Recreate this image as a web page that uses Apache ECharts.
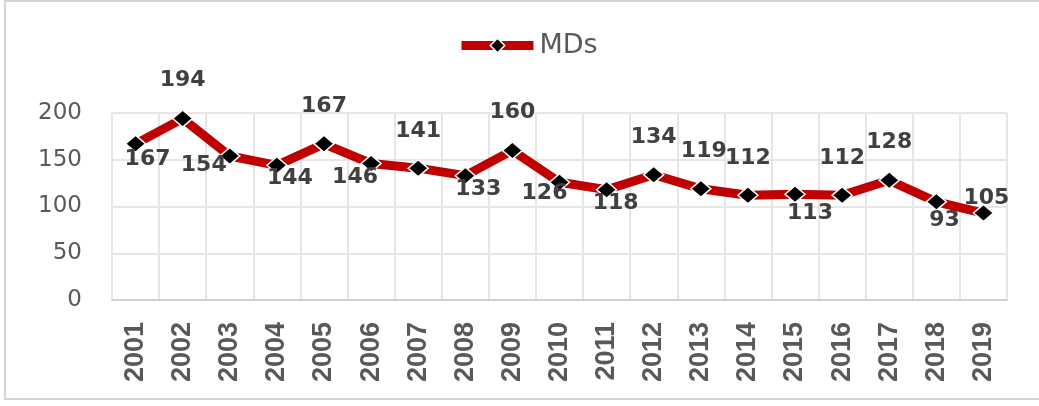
<!DOCTYPE html>
<html>
<head>
<meta charset="utf-8">
<script src="https://cdn.jsdelivr.net/npm/echarts@6/dist/echarts.min.js"></script>
<style>
html,body{margin:0;padding:0;background:#fff;overflow:hidden;}
#frame{position:absolute;left:4px;top:0px;width:1040px;height:400px;border:2px solid #d4d4d4;box-sizing:border-box;}
#chart{position:absolute;left:0;top:0;width:1039px;height:406px;}
</style>
</head>
<body>
<div id="frame"></div>
<div id="chart"></div>
<script>
const categories = ['2001','2002','2003','2004','2005','2006','2007','2008','2009','2010','2011','2012','2013','2014','2015','2016','2017','2018','2019'];
const mdValues = [167,194,154,144,167,146,141,133,160,126,118,134,119,112,113,112,128,105,93];
const yTicks = [0,50,100,150,200];
const seriesName = 'MDs';
// label offsets (styling) relative to each marker, as dragged in the original
const labelOffsets = [[12,15],[0,-38],[-26,9],[13,13],[0,-38],[-16,14],[0,-37],[13,14],[0,-38],[-15,11],[9,14],[0,-37],[3,-37],[0,-37],[15,19],[0,-37],[0,-38],[50,-4],[-39,7]];

const chart = echarts.init(document.getElementById('chart'), null, {renderer:'canvas'});
const data = mdValues.map((v,i)=>({
  value: v,
  label: {offset: labelOffsets[i]}
}));
chart.setOption({
  animation:false,
  backgroundColor:'transparent',
  legend:{
    data:[seriesName],
    left:457, top:32, padding:0,
    itemWidth:72, itemHeight:18, itemGap:8,
    textStyle:{fontFamily:'DejaVu Sans', fontSize:27, color:'#595959', padding:[0,0,0,1]},
    lineStyle:{width:9},
    itemStyle:{borderColor:'#fff', borderWidth:1.5}
  },
  grid:{left:112, right:32, top:113, bottom:106, containLabel:false},
  xAxis:{
    type:'category', data:categories, boundaryGap:true,
    axisLine:{show:true, lineStyle:{color:'#d0d0d0', width:2}},
    axisTick:{show:false},
    splitLine:{show:true, interval:0, lineStyle:{color:'#e6e6e6', width:2}},
    axisLabel:{rotate:90, interval:0, margin:22, fontFamily:'Liberation Sans', fontWeight:'bold', fontSize:27, color:'#595959'}
  },
  yAxis:{
    type:'value', min:yTicks[0], max:yTicks[yTicks.length-1], interval:50,
    axisLine:{show:false}, axisTick:{show:false},
    splitLine:{show:true, lineStyle:{color:'#e6e6e6', width:2}},
    axisLabel:{margin:30, fontFamily:'DejaVu Sans', fontSize:23, color:'#595959'}
  },
  series:[{
    name:seriesName, type:'line', data:data,
    lineStyle:{color:'#c00000', width:9},
    itemStyle:{color:'#000', borderColor:'#fff', borderWidth:1.5},
    symbol:'diamond', symbolSize:[20,17], showAllSymbol:true,
    label:{show:true, position:'inside', fontFamily:'DejaVu Sans', fontWeight:'bold', fontSize:22, color:'#404040'},
    z:3
  }]
});
</script>
</body>
</html>
